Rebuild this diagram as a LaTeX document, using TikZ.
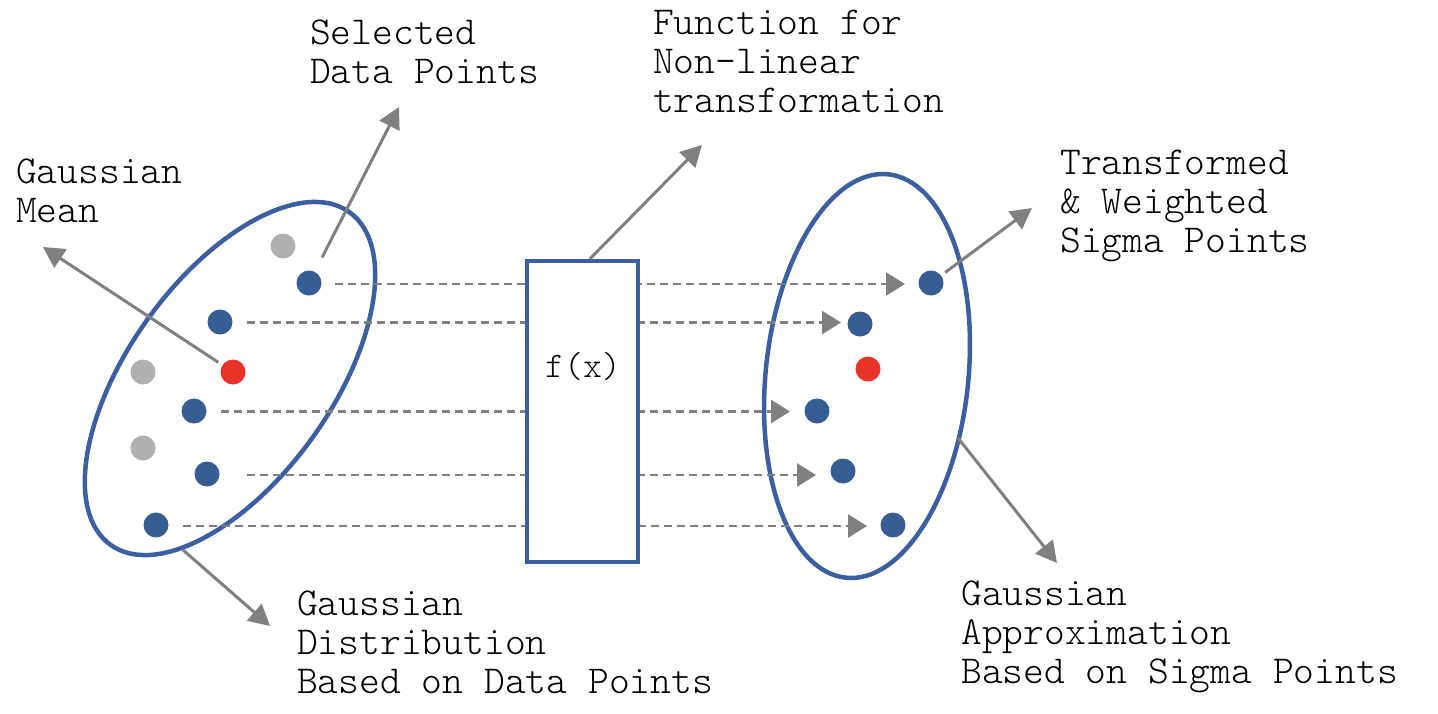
\documentclass[tikz,border=0pt]{standalone}
\usepackage{fontspec}
\usetikzlibrary{arrows.meta,shapes.geometric}
\definecolor{ellBlue}{HTML}{3B5FA0}
\definecolor{dotBlue}{HTML}{375D95}
\definecolor{dotRed}{HTML}{E8332A}
\definecolor{dotGray}{HTML}{B0B0B0}
\definecolor{arrGray}{HTML}{808080}
\begin{document}
\begin{tikzpicture}[x=1pt,y=-1pt,
  labelText/.style={font=\ttfamily\fontseries{l}\fontsize{39.6}{39}\selectfont, align=left, anchor=base west, inner sep=0pt},
  blueDot/.style={circle, fill=dotBlue, minimum size=25pt, inner sep=0pt},
  grayDot/.style={circle, fill=dotGray, minimum size=25pt, inner sep=0pt},
  redDot/.style={circle, fill=dotRed, minimum size=25pt, inner sep=0pt},
  gaussEll/.style={ellipse, draw=ellBlue, line width=4.5pt, inner sep=0pt},
  fbox/.style={rectangle, draw=ellBlue, fill=white, line width=4.5pt, inner sep=0pt},
  flowArrow/.style={draw=arrGray, line width=2.6pt, dash pattern=on 8pt off 5pt, -{Triangle[length=19pt,width=23pt]}},
  annArrow/.style={draw=arrGray, line width=3pt, -{Triangle[length=21pt,width=22pt]}}
]
\useasboundingbox (0,0) rectangle (1438,713);
\fill[white] (0,0) rectangle (1438,713);
% ellipses
\node[gaussEll, rotate=54.3, minimum width=409.6, minimum height=203] (gL) at (230,378.5) {};
\node[gaussEll, rotate=84, minimum width=405.6, minimum height=202.6] (gR) at (867,376) {};
% flow lines
\coordinate (s1) at (335,284);   \coordinate (t1) at (905,284);
\coordinate (s2) at (247,322.5); \coordinate (t2) at (841,322.5);
\coordinate (s3) at (221,411.5); \coordinate (t3) at (790,411.5);
\coordinate (s4) at (247,475);   \coordinate (t4) at (816,475);
\coordinate (s5) at (183,526);   \coordinate (t5) at (867,526);
\draw[flowArrow] (s1) -- (t1);
\draw[flowArrow] (s2) -- (t2);
\draw[flowArrow] (s3) -- (t3);
\draw[flowArrow] (s4) -- (t4);
\draw[flowArrow] (s5) -- (t5);
% function box
\node[fbox, minimum width=111, minimum height=301] (fx) at (582.5,411.5) {};
\node[font=\ttfamily\fontseries{l}\fontsize{36}{38}\selectfont, anchor=base west, inner sep=0pt] (fxlabel) at (545,377) {f(x)};
% left dots
\node[grayDot] (lg1) at (283,246) {};
\node[blueDot] (lb1) at (309,283) {};
\node[blueDot] (lb2) at (220,322) {};
\node[redDot]  (lr)  at (233,372) {};
\node[grayDot] (lg2) at (143,372) {};
\node[blueDot] (lb3) at (194,411) {};
\node[grayDot] (lg3) at (143,448) {};
\node[blueDot] (lb4) at (207,474) {};
\node[blueDot] (lb5) at (156,525) {};
% right dots
\node[blueDot] (rb1) at (931,283) {};
\node[blueDot] (rb2) at (860,324) {};
\node[redDot]  (rr)  at (868,369) {};
\node[blueDot] (rb3) at (817,411) {};
\node[blueDot] (rb4) at (843,471) {};
\node[blueDot] (rb5) at (893,525) {};
% annotation arrows
\coordinate (selTip) at (399,107);
\coordinate (meanTip) at (43,247);
\coordinate (funcTip) at (702,145);
\coordinate (transTip) at (1032,208);
\coordinate (distStart) at (183,550);
\coordinate (distTip) at (270,626);
\coordinate (apxStart) at (958,438);
\coordinate (apxTip) at (1057,563);
\draw[annArrow, shorten <=16pt] (lb1) -- (selTip);
\draw[annArrow, shorten <=5pt] (lr) -- (meanTip);
\draw[annArrow] ([xshift=7.5pt]fx.north) -- (funcTip);
\draw[annArrow, shorten <=5pt] (rb1) -- (transTip);
\draw[annArrow] (distStart) -- (distTip);
\draw[annArrow] (apxStart) -- (apxTip);
% labels (anchored at the baseline of the last line)
\node[labelText] (selLbl) at (310,83) {Selected\\Data Points};
\node[labelText] (funcLbl) at (653,112) {Function for\\Non-linear\\transformation};
\node[labelText] (meanLbl) at (16,222) {Gaussian\\Mean};
\node[labelText] (transLbl) at (1060,252) {Transformed\\\& Weighted\\Sigma Points};
\node[labelText] (apxLbl) at (961,683) {Gaussian\\Approximation\\Based on Sigma Points};
\node[labelText] (distLbl) at (297,693) {Gaussian\\Distribution\\Based on Data Points};
\end{tikzpicture}
\end{document}
